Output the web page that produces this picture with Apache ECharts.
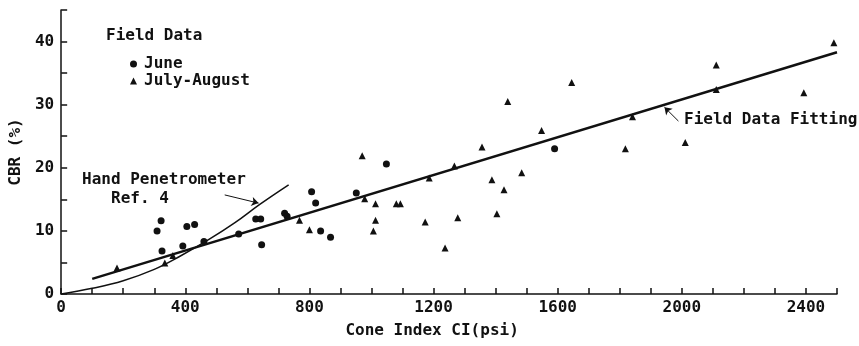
<!DOCTYPE html>
<html>
<head>
<meta charset="utf-8">
<script src="https://cdn.jsdelivr.net/npm/echarts@6/dist/echarts.min.js"></script>
<style>
  html, body { margin: 0; background: #fff; }
  #chart { width: 859px; height: 346px; }
</style>
</head>
<body>
<div id="chart"></div>
<script>
// values (Cone Index psi, CBR %)
const juneData = [
  [309, 10.0], [322, 11.6], [325, 6.8], [392, 7.6], [405, 10.7], [430, 11.0],
  [460, 8.3], [572, 9.5], [627, 11.9], [643, 11.9], [646, 7.8], [720, 12.8],
  [728, 12.3], [807, 16.2], [820, 14.4], [836, 10.0], [868, 9.0], [951, 16.0],
  [1048, 20.6], [1590, 23.0]
];
const julyAugustData = [
  [180, 4.1], [334, 4.9], [360, 6.1], [768, 11.7], [800, 10.2], [970, 21.9],
  [978, 15.1], [1006, 10.0], [1013, 11.7], [1013, 14.3], [1080, 14.3], [1093, 14.3],
  [1173, 11.4], [1186, 18.4], [1237, 7.3], [1267, 20.3], [1278, 12.1], [1356, 23.3],
  [1388, 18.1], [1404, 12.7], [1427, 16.5], [1439, 30.5], [1484, 19.2], [1548, 25.9],
  [1645, 33.5], [1818, 23.0], [1841, 28.1], [2011, 24.0], [2111, 36.3], [2111, 32.4],
  [2393, 31.9], [2490, 39.8]
];
const fitLine = [[100, 2.4], [2500, 38.3]];
const handPenCurve = [
  [0, 0], [100, 0.9], [200, 2.1], [300, 3.9], [380, 5.9], [475, 8.6],
  [560, 11.3], [640, 14.2], [733, 17.3]
];
const handPenArrow = [[527, 15.7], [636, 14.4]];
const fitArrow = [[1989, 27.4], [1944, 29.6]];
const xTickLabels = [0, 400, 800, 1200, 1600, 2000, 2400];
const yTickLabels = [0, 10, 20, 30, 40];

const FONT = 'DejaVu Sans Mono';
const INK = '#111';
const TEXT_FONT = 'bold 16px "DejaVu Sans Mono"';

const chart = echarts.init(document.getElementById('chart'));

const axisCommon = {
  axisLine: { show: true, lineStyle: { color: INK, width: 1.5 } },
  axisTick: { show: true, inside: true, length: 6, lineStyle: { color: INK, width: 1.5 } }
};

const option = {
  animation: false,
  backgroundColor: '#fff',
  grid: { left: 59, right: 22, top: 10, bottom: 52, containLabel: false },
  legend: {
    data: ['June', 'July-August'],
    orient: 'vertical',
    left: 125,
    top: 51,
    itemGap: 1,
    itemWidth: 7,
    itemHeight: 7,
    textStyle: { fontFamily: FONT, fontWeight: 'bold', fontSize: 16, color: INK, padding: [0, 0, 0, 2] }
  },
  xAxis: Object.assign({}, axisCommon, {
    type: 'value',
    min: 0,
    max: 2500,
    interval: 100,
    splitLine: { show: false },
    name: 'Cone Index CI(psi)',
    nameLocation: 'middle',
    nameGap: 29,
    nameTextStyle: { fontFamily: FONT, fontWeight: 'bold', fontSize: 16, color: INK, padding: [0, 34, 0, 0] },
    axisLabel: {
      fontFamily: FONT, fontWeight: 'bold', fontSize: 16, color: INK, margin: 6,
      formatter: v => xTickLabels.includes(v) ? String(v) : ''
    }
  }),
  yAxis: Object.assign({}, axisCommon, {
    type: 'value',
    min: 0,
    max: 45,
    interval: 5,
    splitLine: { show: false },
    name: 'CBR (%)',
    nameLocation: 'middle',
    nameGap: 27,
    nameTextStyle: { fontFamily: FONT, fontWeight: 'bold', fontSize: 16, color: INK },
    axisLabel: {
      fontFamily: FONT, fontWeight: 'bold', fontSize: 16, color: INK, margin: 7,
      formatter: v => yTickLabels.includes(v) ? String(v) : ''
    }
  }),
  graphic: [
    { type: 'text', left: 106, top: 28, style: { text: 'Field Data', font: TEXT_FONT, fill: INK } },
    { type: 'text', left: 82, top: 172, style: { text: 'Hand Penetrometer', font: TEXT_FONT, fill: INK } },
    { type: 'text', left: 111, top: 191, style: { text: 'Ref. 4', font: TEXT_FONT, fill: INK } },
    { type: 'text', left: 684, top: 112, style: { text: 'Field Data Fitting', font: TEXT_FONT, fill: INK } }
  ],
  series: [
    {
      name: 'Field Data Fitting',
      type: 'line',
      data: fitLine,
      symbol: 'none',
      lineStyle: { color: INK, width: 2.5 },
      silent: true,
      z: 3
    },
    {
      name: 'Hand Penetrometer',
      type: 'line',
      data: handPenCurve,
      smooth: 0.4,
      symbol: 'none',
      lineStyle: { color: INK, width: 1.5 },
      silent: true,
      z: 3,
      markLine: {
        silent: true,
        symbol: ['none', 'arrow'],
        symbolSize: 7,
        label: { show: false },
        lineStyle: { color: INK, width: 1, type: 'solid' },
        data: [
          [{ coord: handPenArrow[0] }, { coord: handPenArrow[1] }],
          [{ coord: fitArrow[0] }, { coord: fitArrow[1] }]
        ]
      }
    },
    {
      name: 'June',
      type: 'scatter',
      data: juneData,
      symbol: 'circle',
      symbolSize: 7,
      itemStyle: { color: INK, opacity: 1 },
      z: 4
    },
    {
      name: 'July-August',
      type: 'scatter',
      data: julyAugustData,
      symbol: 'triangle',
      symbolSize: 7,
      itemStyle: { color: INK, opacity: 1 },
      z: 4
    }
  ]
};

chart.setOption(option);
</script>
</body>
</html>
